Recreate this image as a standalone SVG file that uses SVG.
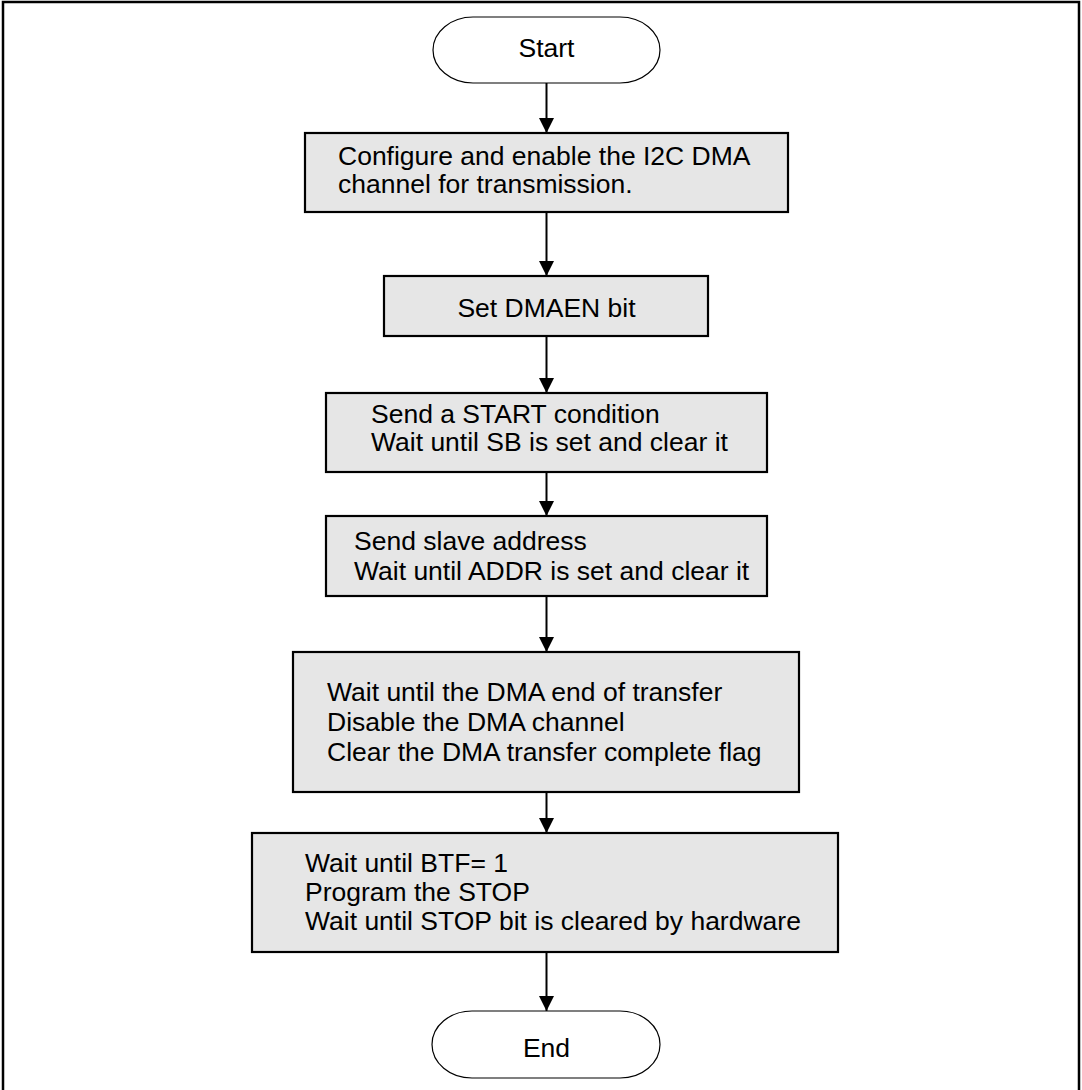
<svg xmlns="http://www.w3.org/2000/svg" width="1082" height="1090" viewBox="0 0 1082 1090">
<style>
  .box { fill: #e6e6e6; stroke: #000; stroke-width: 2.2; }
  .term { fill: #fff; stroke: #000; stroke-width: 1.2; }
  .t { font-family: "Liberation Sans", Arial, sans-serif; font-size: 26.5px; fill: #000; }
  .c { text-anchor: middle; }
  .conn { stroke: #000; stroke-width: 2; fill: none; marker-end: url(#arrow); }
</style>
<defs>
  <marker id="arrow" viewBox="0 0 15 15" refX="15" refY="7.5" markerWidth="15" markerHeight="15" orient="auto" markerUnits="userSpaceOnUse">
    <path d="M0,0 L15,7.5 L0,15 Z" fill="#000"/>
  </marker>
</defs>
<rect width="1082" height="1090" fill="#fff"/>
<path d="M3,1090 L3,2 L1079,2 L1079,1090" fill="none" stroke="#000" stroke-width="2.5"/>

<g id="connectors">
  <line class="conn" x1="546.5" y1="83" x2="546.5" y2="133"/>
  <line class="conn" x1="546.5" y1="212" x2="546.5" y2="276"/>
  <line class="conn" x1="546.5" y1="336" x2="546.5" y2="393"/>
  <line class="conn" x1="546.5" y1="472" x2="546.5" y2="516"/>
  <line class="conn" x1="546.5" y1="596" x2="546.5" y2="652"/>
  <line class="conn" x1="546.5" y1="792" x2="546.5" y2="833"/>
  <line class="conn" x1="546.5" y1="952" x2="546.5" y2="1011"/>
</g>

<g id="start">
  <rect class="term" x="433" y="17" width="227" height="66" rx="40" ry="33"/>
  <text class="t c" x="546.5" y="57">Start</text>
</g>

<g id="configure">
  <rect class="box" x="305" y="133" width="483" height="79"/>
  <text class="t" x="338" y="165">Configure and enable the I2C DMA</text>
  <text class="t" x="338" y="193">channel for transmission.</text>
</g>

<g id="dmaen">
  <rect class="box" x="384" y="276" width="324" height="60"/>
  <text class="t c" x="546.5" y="317">Set DMAEN bit</text>
</g>

<g id="startcond">
  <rect class="box" x="326" y="393" width="441" height="79"/>
  <text class="t" x="371" y="423">Send a START condition</text>
  <text class="t" x="371" y="451">Wait until SB is set and clear it</text>
</g>

<g id="slaveaddr">
  <rect class="box" x="326" y="516" width="441" height="80"/>
  <text class="t" x="354" y="550">Send slave address</text>
  <text class="t" x="354" y="580">Wait until ADDR is set and clear it</text>
</g>

<g id="dmaend">
  <rect class="box" x="293" y="652" width="506" height="140"/>
  <text class="t" x="327" y="701">Wait until the DMA end of transfer</text>
  <text class="t" x="327" y="731">Disable the DMA channel</text>
  <text class="t" x="327" y="761">Clear the DMA transfer complete flag</text>
</g>

<g id="stop">
  <rect class="box" x="252" y="833" width="586" height="119"/>
  <text class="t" x="305" y="872">Wait until BTF= 1</text>
  <text class="t" x="305" y="901">Program the STOP</text>
  <text class="t" x="305" y="930">Wait until STOP bit is cleared by hardware</text>
</g>

<g id="end">
  <rect class="term" x="432" y="1011" width="228" height="67" rx="40" ry="33.5"/>
  <text class="t c" x="546.5" y="1057">End</text>
</g>
</svg>
